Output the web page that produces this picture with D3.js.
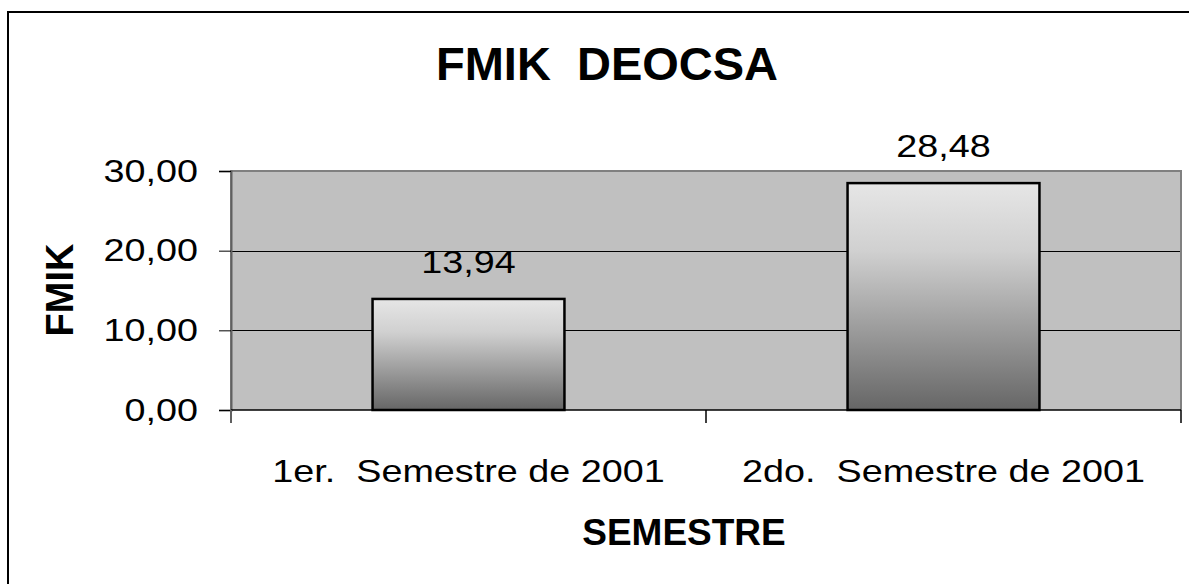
<!DOCTYPE html>
<html>
<head>
<meta charset="utf-8">
<script src="https://cdn.jsdelivr.net/npm/d3@7"></script>
<style>
  html, body { margin: 0; padding: 0; background: #fff; }
  svg { display: block; font-family: "Liberation Sans", Arial, sans-serif; }
  text { white-space: pre; }
</style>
</head>
<body>
<svg id="chart" width="1189" height="584"></svg>
<script>
// datos del grafico
const categories = ["1er.  Semestre de 2001", "2do.  Semestre de 2001"];
const values = [13.94, 28.48];
const yTicks = [0, 10, 20, 30];

const fmt = v => d3.format(".2f")(v).replace(".", ",");
const SX = 1.18; // el texto normal sale algo estirado en horizontal

const svg = d3.select("#chart");
const plot = {left: 231, right: 1181, top: 171, bottom: 410};

const x = d3.scaleBand()
    .domain(categories)
    .range([plot.left, plot.right])
    .paddingInner(0.596)
    .paddingOuter(0.298);

const y = d3.scaleLinear().domain([0, 30]).range([plot.bottom, plot.top]);

// gradiente de las barras
const grad = svg.append("defs").append("linearGradient")
    .attr("id", "barGrad")
    .attr("x1", 0).attr("y1", 0).attr("x2", 0).attr("y2", 1);
grad.append("stop").attr("offset", "0%").attr("stop-color", "#e6e6e6");
grad.append("stop").attr("offset", "30%").attr("stop-color", "#d0d0d0");
grad.append("stop").attr("offset", "100%").attr("stop-color", "#666666");

// marco exterior
svg.append("rect")
    .attr("x", 8).attr("y", 12)
    .attr("width", 1300).attr("height", 700)
    .attr("fill", "none").attr("stroke", "#000").attr("stroke-width", 2);

// area de trazado
svg.append("rect")
    .attr("x", plot.left).attr("y", plot.top)
    .attr("width", plot.right - plot.left).attr("height", plot.bottom - plot.top)
    .attr("fill", "#c0c0c0");

// lineas de division
svg.append("g").selectAll("line")
    .data(yTicks.filter(d => d > 0 && d < 30))
    .join("line")
    .attr("x1", plot.left).attr("x2", plot.right)
    .attr("y1", d => Math.round(y(d)) + 0.5).attr("y2", d => Math.round(y(d)) + 0.5)
    .attr("stroke", "#000").attr("stroke-width", 1);

// borde del area
svg.append("path")
    .attr("d", `M${plot.left},${plot.bottom}V${plot.top}H${plot.right}V${plot.bottom}`)
    .attr("fill", "none").attr("stroke", "#808080").attr("stroke-width", 2);

// eje Y
const yAxis = svg.append("g")
    .attr("transform", `translate(${plot.left},0)`)
    .call(d3.axisLeft(y).tickValues(yTicks).tickSize(12).tickPadding(21).tickFormat(fmt));
yAxis.select(".domain").attr("stroke", "#606060").attr("stroke-width", 2);
yAxis.selectAll(".tick line").attr("stroke", "#000");
yAxis.selectAll(".tick text")
    .attr("font-size", 32).attr("fill", "#000")
    .attr("font-family", "Liberation Sans, Arial, sans-serif")
    .attr("x", -33 / SX)
    .attr("transform", `scale(${SX},1)`);

// barras
svg.append("g").selectAll("rect")
    .data(values)
    .join("rect")
    .attr("x", (d, i) => x(categories[i]))
    .attr("y", d => y(d))
    .attr("width", x.bandwidth())
    .attr("height", d => y(0) - y(d))
    .attr("fill", "url(#barGrad)")
    .attr("stroke", "#000").attr("stroke-width", 2.5);

// eje X
svg.append("line")
    .attr("x1", plot.left).attr("x2", plot.right)
    .attr("y1", plot.bottom).attr("y2", plot.bottom)
    .attr("stroke", "#000").attr("stroke-width", 1.5);
const xTickPos = [plot.left].concat(categories.map(c => x(c) + x.bandwidth() / 2 + x.step() / 2));
svg.append("g").selectAll("line")
    .data(xTickPos)
    .join("line")
    .attr("x1", d => d).attr("x2", d => d)
    .attr("y1", plot.bottom).attr("y2", plot.bottom + 13)
    .attr("stroke", (d, i) => i === 0 ? "#606060" : "#000")
    .attr("stroke-width", (d, i) => i === 0 ? 2 : 1.5);

// etiquetas de categoria
svg.append("g").selectAll("text")
    .data(categories)
    .join("text")
    .attr("transform", d => `translate(${x(d) + x.bandwidth() / 2},482) scale(${SX},1)`)
    .attr("text-anchor", "middle")
    .attr("font-size", 32)
    .text(d => d);

// etiquetas de datos
svg.append("g").selectAll("text")
    .data(values)
    .join("text")
    .attr("transform", (d, i) => `translate(${x(categories[i]) + x.bandwidth() / 2},${y(d) - 26}) scale(${SX},1)`)
    .attr("text-anchor", "middle")
    .attr("font-size", 32)
    .text(d => fmt(d));

// titulos
svg.append("text")
    .attr("x", 607).attr("y", 80)
    .attr("text-anchor", "middle")
    .attr("font-size", 47).attr("font-weight", "bold")
    .text("FMIK  DEOCSA");

svg.append("text")
    .attr("transform", "translate(73,290) rotate(-90)")
    .attr("text-anchor", "middle")
    .attr("font-size", 38).attr("font-weight", "bold")
    .text("FMIK");

svg.append("text")
    .attr("x", 684).attr("y", 545)
    .attr("text-anchor", "middle")
    .attr("font-size", 37).attr("font-weight", "bold")
    .text("SEMESTRE");
</script>
</body>
</html>
